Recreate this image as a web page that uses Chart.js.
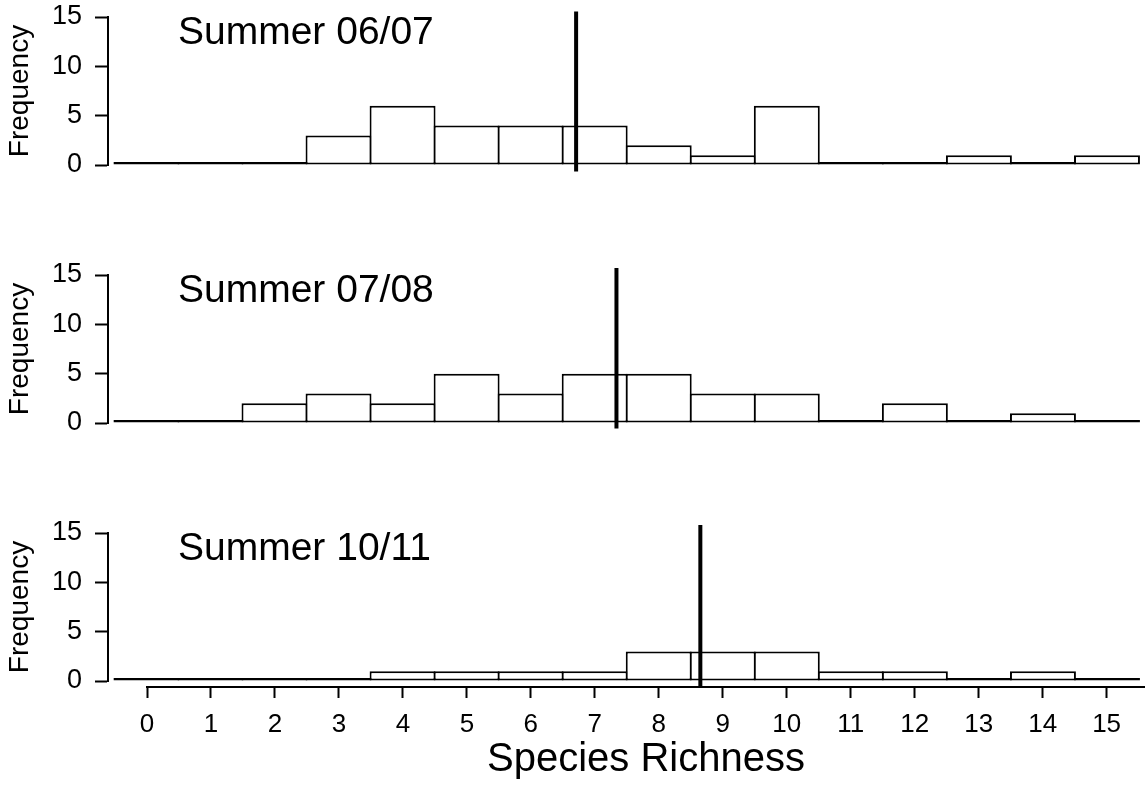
<!DOCTYPE html>
<html><head><meta charset="utf-8">
<script src="https://cdn.jsdelivr.net/npm/chart.js@4.4.1/dist/chart.umd.min.js"></script>
<style>
html,body{margin:0;padding:0;background:#fff;}
body{width:1145px;height:793px;position:relative;overflow:hidden;}
.pane{position:absolute;left:0;width:1145px;}
canvas{display:block;}
</style></head><body>
<div class="pane" style="top:0;height:258px"><canvas id="c0" width="1145" height="258"></canvas></div>
<div class="pane" style="top:258px;height:258px"><canvas id="c1" width="1145" height="258"></canvas></div>
<div class="pane" style="top:516px;height:258px"><canvas id="c2" width="1145" height="258"></canvas></div>
<div class="pane" style="top:670px;height:123px"><canvas id="c3" width="1145" height="123"></canvas></div>
<script>
// ---- data ----
const richness = [0,1,2,3,4,5,6,7,8,9,10,11,12,13,14,15];
const freq0607 = [0,0,0,3,6,4,4,4,2,1,6,0,0,1,0,1];
const freq0708 = [0,0,2,3,2,5,3,5,5,3,3,0,2,0,1,0];
const freq1011 = [0,0,0,0,1,1,1,1,3,3,3,1,1,0,1,0];
const panelLabels = ['Summer 06/07','Summer 07/08','Summer 10/11'];
const meanRichness = [6.71, 7.34, 8.65];
const meanLineLow = [-0.65, -0.55, -0.6];
const meanLineHigh = [15.55, 15.7, 15.8];
const freqTicks = [0,5,10,15];
const richnessTicks = [0,1,2,3,4,5,6,7,8,9,10,11,12,13,14,15];
const xLabel = 'Species Richness';
const yLabel = 'Frequency';

Chart.defaults.font.family = "'Liberation Sans', Arial, sans-serif";
Chart.defaults.color = '#000';

const panelLabel = {
  id: 'panelLabel',
  afterDatasetsDraw(chart, args, opts) {
    const {ctx, chartArea} = chart;
    ctx.save();
    ctx.font = '39px "Liberation Sans", Arial, sans-serif';
    ctx.fillStyle = '#000';
    ctx.textBaseline = 'middle';
    ctx.textAlign = 'left';
    ctx.fillText(opts.text, chartArea.left + opts.dx, chartArea.top + opts.dy);
    ctx.restore();
  }
};

function makePanel(id, freq, idx) {
  new Chart(document.getElementById(id), {
    type: 'bar',
    data: {
      datasets: [
        {
          type: 'line',
          data: [{x: meanRichness[idx], y: meanLineLow[idx]}, {x: meanRichness[idx], y: meanLineHigh[idx]}],
          borderColor: '#000', borderWidth: 4, pointRadius: 0, clip: false, order: 0,
          borderCapStyle: 'butt'
        },
        {
          type: 'bar',
          data: richness.map((r, i) => ({x: r, y: freq[i]})),
          backgroundColor: '#fff', borderColor: '#000', borderWidth: 2, borderSkipped: false,
          barPercentage: 1.03, categoryPercentage: 1, minBarLength: 3,
          clip: false, order: 1
        }
      ]
    },
    options: {
      responsive: false, animation: false,
      layout: {padding: {top: 17, bottom: 93, left: 0, right: 6}},
      plugins: {
        legend: {display: false}, tooltip: {enabled: false},
        panelLabel: {text: panelLabels[idx], dx: 70, dy: 16}
      },
      scales: {
        x: {type: 'linear', display: false, offset: false, grid: {offset: false},
            min: -0.6, max: 15.5, ticks: {stepSize: 1, includeBounds: false}},
        y: {
          min: 0, max: 15,
          afterFit(s) { s.width = 108; s.paddingTop = 0; s.paddingBottom = 0; },
          afterBuildTicks(s) { s.ticks = freqTicks.map(v => ({value: v})); },
          ticks: {font: {size: 27}, color: '#000', padding: 13},
          grid: {drawOnChartArea: false, tickLength: 13, tickWidth: 2, tickColor: '#000'},
          border: {display: true, color: '#000', width: 2},
          title: {display: true, text: yLabel, font: {size: 28}, color: '#000', padding: {top: 3, bottom: 0}}
        }
      }
    },
    plugins: [panelLabel]
  });
}

makePanel('c0', freq0607, 0);
makePanel('c1', freq0708, 1);
makePanel('c2', freq1011, 2);

new Chart(document.getElementById('c3'), {
  type: 'line',
  data: {datasets: []},
  options: {
    responsive: false, animation: false,
    layout: {padding: {left: 147, right: 0, top: 0, bottom: 0}},
    plugins: {legend: {display: false}, tooltip: {enabled: false}},
    scales: {
      x: {
        type: 'linear', position: 'bottom', min: 0, max: 15.6, offset: false,
        afterFit(s) { s.height = 106; s.paddingLeft = 0; s.paddingRight = 0; },
        afterBuildTicks(s) { s.ticks = richnessTicks.map(v => ({value: v})); },
        ticks: {font: {size: 26}, color: '#000', padding: 11, maxRotation: 0, autoSkip: false},
        grid: {drawOnChartArea: false, offset: false, tickLength: 11, tickWidth: 2, tickColor: '#000'},
        border: {display: true, color: '#000', width: 2},
        title: {display: true, text: xLabel, font: {size: 40}, color: '#000', padding: {top: 0, bottom: 9}}
      },
      y: {display: false, min: 0, max: 1}
    }
  }
});
</script>
</body></html>
